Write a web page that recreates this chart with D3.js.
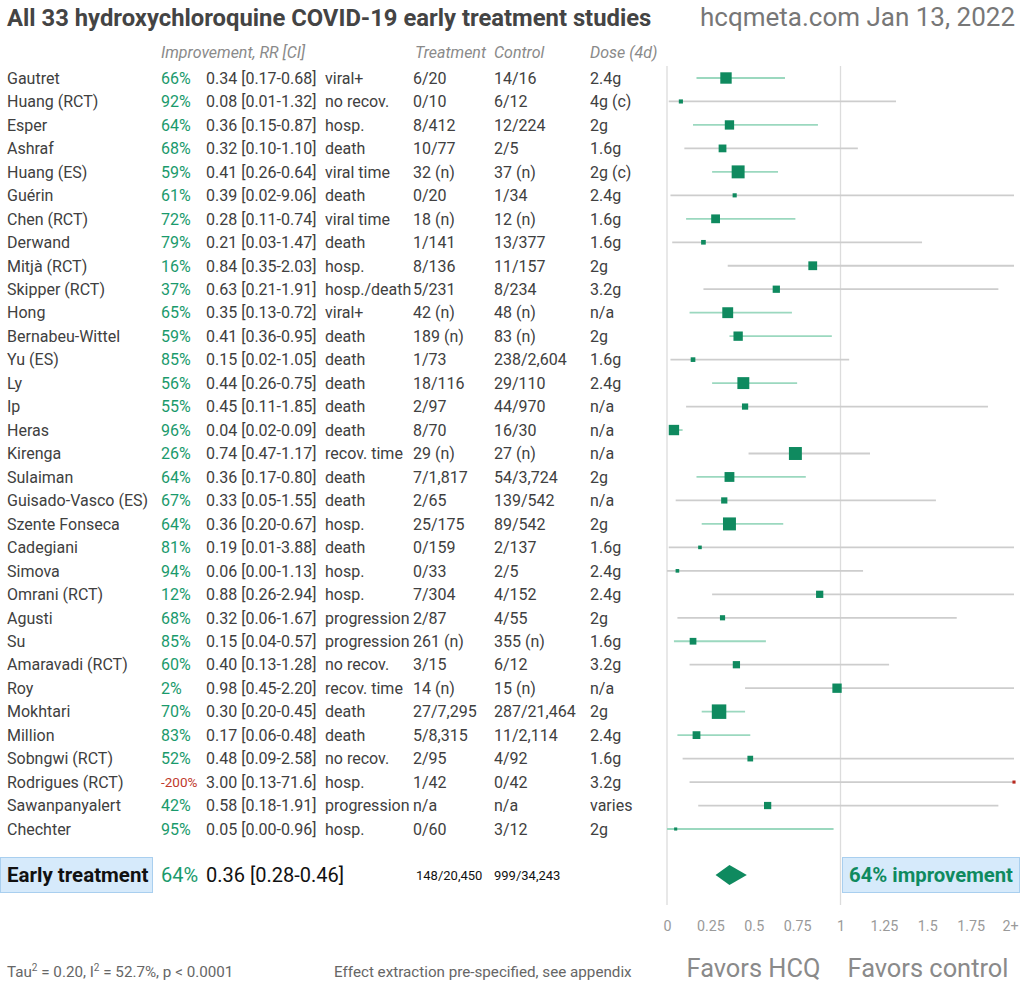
<!DOCTYPE html>
<html><head><meta charset="utf-8">
<script src="https://cdn.jsdelivr.net/npm/d3@7"></script>
<style>
body{margin:0;background:#fff;}
text{font-family:Roboto,"Noto Sans",sans-serif;}
</style></head>
<body>
<svg id="c" width="1024" height="985"></svg>
<script>
const studies = ["Gautret","Huang (RCT)","Esper","Ashraf","Huang (ES)","Guérin","Chen (RCT)","Derwand","Mitjà (RCT)","Skipper (RCT)","Hong","Bernabeu-Wittel","Yu (ES)","Ly","Ip","Heras","Kirenga","Sulaiman","Guisado-Vasco (ES)","Szente Fonseca","Cadegiani","Simova","Omrani (RCT)","Agusti","Su","Amaravadi (RCT)","Roy","Mokhtari","Million","Sobngwi (RCT)","Rodrigues (RCT)","Sawanpanyalert","Chechter"];
const rr   = [0.34,0.08,0.36,0.32,0.41,0.39,0.28,0.21,0.84,0.63,0.35,0.41,0.15,0.44,0.45,0.04,0.74,0.36,0.33,0.36,0.19,0.06,0.88,0.32,0.15,0.40,0.98,0.30,0.17,0.48,3.00,0.58,0.05];
const ciLo = [0.17,0.01,0.15,0.10,0.26,0.02,0.11,0.03,0.35,0.21,0.13,0.36,0.02,0.26,0.11,0.02,0.47,0.17,0.05,0.20,0.01,0.00,0.26,0.06,0.04,0.13,0.45,0.20,0.06,0.09,0.13,0.18,0.00];
const ciHi = [0.68,1.32,0.87,1.10,0.64,9.06,0.74,1.47,2.03,1.91,0.72,0.95,1.05,0.75,1.85,0.09,1.17,0.80,1.55,0.67,3.88,1.13,2.94,1.67,0.57,1.28,2.20,0.45,0.48,2.58,71.6,1.91,0.96];
const outcome = ["viral+","no recov.","hosp.","death","viral time","death","viral time","death","hosp.","hosp./death","viral+","death","death","death","death","death","recov. time","death","death","hosp.","death","hosp.","hosp.","progression","progression","no recov.","recov. time","death","death","no recov.","hosp.","progression","hosp."];
const treatment = ["6/20","0/10","8/412","10/77","32 (n)","0/20","18 (n)","1/141","8/136","5/231","42 (n)","189 (n)","1/73","18/116","2/97","8/70","29 (n)","7/1,817","2/65","25/175","0/159","0/33","7/304","2/87","261 (n)","3/15","14 (n)","27/7,295","5/8,315","2/95","1/42","n/a","0/60"];
const control = ["14/16","6/12","12/224","2/5","37 (n)","1/34","12 (n)","13/377","11/157","8/234","48 (n)","83 (n)","238/2,604","29/110","44/970","16/30","27 (n)","54/3,724","139/542","89/542","2/137","2/5","4/152","4/55","355 (n)","6/12","15 (n)","287/21,464","11/2,114","4/92","0/42","n/a","3/12"];
const dose = ["2.4g","4g (c)","2g","1.6g","2g (c)","2.4g","1.6g","1.6g","2g","3.2g","n/a","2g","1.6g","2.4g","n/a","n/a","n/a","2g","n/a","2g","1.6g","2.4g","2.4g","2g","1.6g","3.2g","n/a","2g","2.4g","1.6g","3.2g","varies","2g"];
const weight = [3.36,0.44,2.25,1.56,4.34,0.44,2.0,0.56,2.0,1.36,3.06,2.25,0.56,3.67,1.0,2.78,4.34,2.5,1.0,4.34,0.34,0.34,1.36,0.69,1.17,1.36,2.25,5.44,1.56,0.84,0.25,1.36,0.25];
const pooled = {rr:0.36, lo:0.28, hi:0.46, treat:"148/20,450", ctrl:"999/34,243"};
const ticks = [0,0.25,0.5,0.75,1,1.25,1.5,1.75,2];

const rows = studies.map((s,i)=>({name:s, rr:rr[i], lo:ciLo[i], hi:ciHi[i], out:outcome[i], t:treatment[i], c:control[i], d:dose[i], w:weight[i]}));

const svg = d3.select("#c");
const x = d3.scaleLinear().domain([0,2]).range([667,1014]).clamp(true);
const y = d3.scalePoint().domain(studies).range([78,829]);
const size = d3.scaleSqrt().domain([0,5.44]).range([0,14.5]);
const GREEN = "#0f8a5f", LGREEN = "#9bd8bf", GREY = "#cdcdcd", TXT = "#404040";

const fmt = v => v >= 10 ? v.toFixed(1) : v.toFixed(2);
const imp = v => Math.round((1-v)*100);

// title
svg.append("text").attr("x",7).attr("y",26).attr("font-size",23.8).attr("font-weight","bold").attr("fill","#444")
  .text("All 33 hydroxychloroquine COVID-19 early treatment studies");
svg.append("text").attr("x",1015).attr("y",26).attr("text-anchor","end").attr("font-size",26).attr("fill","#777")
  .text("hcqmeta.com Jan 13, 2022");

// headers
const hdr = [["Improvement, RR [CI]",161],["Treatment",415],["Control",494],["Dose (4d)",590]];
svg.selectAll("text.hdr").data(hdr).join("text").attr("class","hdr")
  .attr("x",d=>d[1]).attr("y",58).attr("font-size",16).attr("font-style","italic").attr("fill","#8a8a8a").text(d=>d[0]);

// reference lines
svg.selectAll("line.ref").data([0,1]).join("line").attr("class","ref")
  .attr("x1",d=>x(d)).attr("x2",d=>x(d)).attr("y1",66).attr("y2",905)
  .attr("stroke","#dcdcdc").attr("stroke-width",1.3);

// rows text
const FS = 16;
const g = svg.selectAll("g.row").data(rows).join("g").attr("class","row")
  .attr("transform",d=>`translate(0,${y(d.name)})`);
g.append("text").attr("x",7).attr("dy","0.36em").attr("font-size",FS).attr("fill",TXT).text(d=>d.name);
g.append("text").attr("x",161).attr("dy","0.36em")
  .attr("font-size",d=>imp(d.rr)<0?13.5:FS)
  .attr("fill",d=>imp(d.rr)<0?"#c0392b":"#1a9a6c").text(d=>imp(d.rr)+"%");
g.append("text").attr("x",206).attr("dy","0.36em").attr("font-size",FS).attr("fill",TXT)
  .text(d=>`${fmt(d.rr)} [${fmt(d.lo)}-${fmt(d.hi)}]`);
g.append("text").attr("x",325).attr("dy","0.36em").attr("font-size",FS).attr("fill",TXT).text(d=>d.out);
g.append("text").attr("x",413).attr("dy","0.36em").attr("font-size",FS).attr("fill",TXT).text(d=>d.t);
g.append("text").attr("x",494).attr("dy","0.36em").attr("font-size",FS).attr("fill",TXT).text(d=>d.c);
g.append("text").attr("x",590).attr("dy","0.36em").attr("font-size",FS).attr("fill",TXT).text(d=>d.d);

// CI lines
g.append("line").attr("x1",d=>x(d.lo)).attr("x2",d=>x(d.hi)).attr("y1",0).attr("y2",0)
  .attr("stroke",d=>d.hi<1?LGREEN:GREY).attr("stroke-width",1.8);
// squares
g.append("rect").attr("x",d=>x(d.rr)-size(d.w)/2).attr("y",d=>-size(d.w)/2)
  .attr("width",d=>size(d.w)).attr("height",d=>size(d.w))
  .attr("fill",d=>d.rr>1?"#b8281e":GREEN);

// pooled row
const py = 875;
svg.append("rect").attr("x",0.5).attr("y",857.5).attr("width",152).attr("height",35)
  .attr("fill","#d6eafb").attr("stroke","#a9cfef");
svg.append("text").attr("x",7).attr("y",py).attr("dy","0.36em").attr("font-size",20.5).attr("font-weight","bold").attr("fill","#111").text("Early treatment");
svg.append("text").attr("x",161).attr("y",py).attr("dy","0.36em").attr("font-size",20).attr("fill","#1a9a6c").text(imp(pooled.rr)+"%");
svg.append("text").attr("x",206).attr("y",py).attr("dy","0.36em").attr("font-size",20).attr("fill","#111")
  .text(`${fmt(pooled.rr)} [${fmt(pooled.lo)}-${fmt(pooled.hi)}]`);
svg.append("text").attr("x",416).attr("y",py).attr("dy","0.36em").attr("font-size",13).attr("fill","#111").text(pooled.treat);
svg.append("text").attr("x",494).attr("y",py).attr("dy","0.36em").attr("font-size",13).attr("fill","#111").text(pooled.ctrl);
svg.append("path").attr("d",`M${x(pooled.lo)},${py} L${x(pooled.rr)},${py-10} L${x(pooled.hi)},${py} L${x(pooled.rr)},${py+10} Z`).attr("fill",GREEN);
svg.append("rect").attr("x",842.5).attr("y",857.5).attr("width",177).attr("height",35)
  .attr("fill","#d6eafb").attr("stroke","#a9cfef");
svg.append("text").attr("x",931).attr("y",py).attr("dy","0.36em").attr("text-anchor","middle").attr("font-size",20.3).attr("font-weight","bold").attr("fill",GREEN)
  .text(imp(pooled.rr)+"% improvement");

// axis
const axis = d3.axisBottom(x).tickValues(ticks).tickSize(0).tickPadding(0)
  .tickFormat(d=> d===2 ? "2+" : String(d));
const ax = svg.append("g").attr("transform","translate(0,921)").call(axis);
ax.select(".domain").remove();
ax.selectAll("text").attr("font-family","'DejaVu Sans',Verdana,sans-serif").attr("font-size",14.3).attr("fill","#9a9a9a");
ax.selectAll(".tick").filter(d=>d===2).select("text").attr("dx",-4);

// favors labels
svg.append("text").attr("x",753.5).attr("y",977).attr("text-anchor","middle").attr("font-size",25.4).attr("fill","#8a8a8a").text("Favors HCQ");
svg.append("text").attr("x",928).attr("y",977).attr("text-anchor","middle").attr("font-size",25.4).attr("fill","#8a8a8a").text("Favors control");

// footer
const FF = 15.2;
const tau = svg.append("text").attr("x",7).attr("y",977).attr("font-size",FF).attr("fill","#666");
tau.append("tspan").text("Tau");
tau.append("tspan").attr("font-size",10).attr("dy",-6).text("2");
tau.append("tspan").attr("dy",6).text(" = 0.20, I");
tau.append("tspan").attr("font-size",10).attr("dy",-6).text("2");
tau.append("tspan").attr("dy",6).text(" = 52.7%, p < 0.0001");
svg.append("text").attr("x",334).attr("y",977).attr("font-size",FF).attr("fill","#666").text("Effect extraction pre-specified, see appendix");
</script>
</body></html>
